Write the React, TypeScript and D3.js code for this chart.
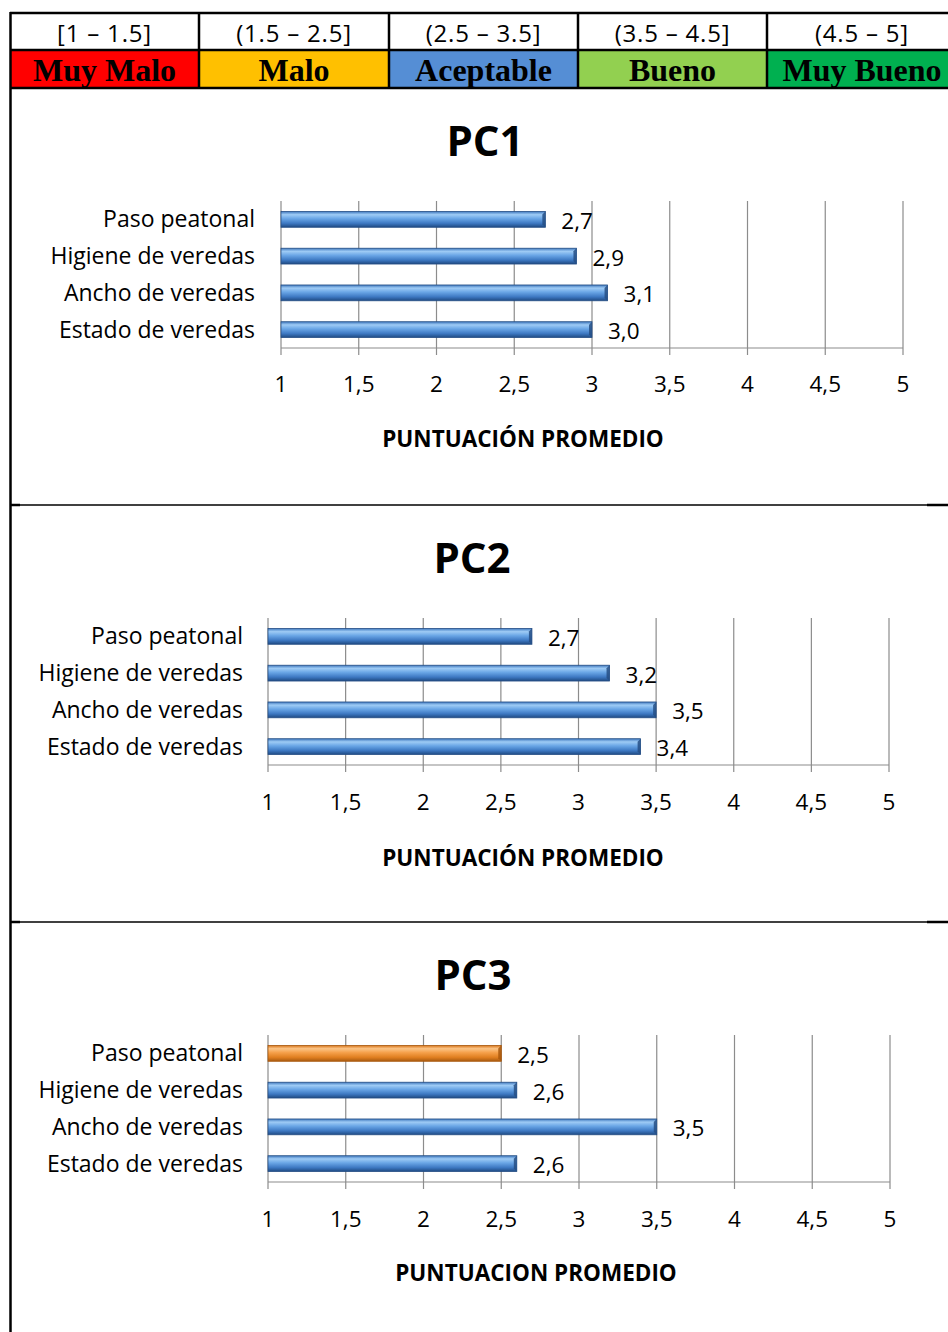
import React from "react";
import * as d3 from "d3";

const categories = ["Paso peatonal", "Higiene de veredas", "Ancho de veredas", "Estado de veredas"];
const pc1Values = [2.7, 2.9, 3.1, 3.0];
const pc2Values = [2.7, 3.2, 3.5, 3.4];
const pc3Values = [2.5, 2.6, 3.5, 2.6];
const pc3Highlight = [true, false, false, false];
const chartTitles = ["PC1", "PC2", "PC3"];
const axisTitles = ["PUNTUACIÓN PROMEDIO", "PUNTUACIÓN PROMEDIO", "PUNTUACION PROMEDIO"];
const xTicks = [1, 1.5, 2, 2.5, 3, 3.5, 4, 4.5, 5];
const scaleRanges = ["[1 – 1.5]", "(1.5 – 2.5]", "(2.5 – 3.5]", "(3.5 – 4.5]", "(4.5 – 5]"];
const scaleLabels = ["Muy Malo", "Malo", "Aceptable", "Bueno", "Muy Bueno"];
const scaleColors = ["#ff0000", "#ffc000", "#558ed5", "#92d050", "#00b050"];

const W = 948;
const H = 1332;

const layouts = [
  { x0: 281, x1: 903, top: 201, base: 348, labelRight: 255, tickY: 383, titleX: 485, titleY: 139, atX: 523, atY: 438 },
  { x0: 268, x1: 889, top: 618, base: 765, labelRight: 243, tickY: 801, titleX: 472, titleY: 556, atX: 523, atY: 857 },
  { x0: 268, x1: 890, top: 1035, base: 1182, labelRight: 243, tickY: 1218, titleX: 473, titleY: 973, atX: 536, atY: 1272 },
];

const fmt = (v: number) => String(v).replace(".", ",");
const fmt1 = (v: number) => v.toFixed(1).replace(".", ",");
const FONT = "'Open Sans', Lato, sans-serif";

function Chart({ idx, values, highlight }: { idx: number; values: number[]; highlight?: boolean[] }) {
  const L = layouts[idx];
  const x = d3.scaleLinear().domain([1, 5]).range([L.x0, L.x1]);
  const y = d3.scaleBand<string>().domain(categories).range([L.top, L.base]).paddingInner(0.57).paddingOuter(0.285);
  const bh = y.bandwidth();
  return (
    <g>
      <text x={L.titleX} y={L.titleY} textAnchor="middle" dominantBaseline="central" fontFamily={FONT} fontWeight="bold" fontSize={42}>
        {chartTitles[idx]}
      </text>
      {xTicks.map((t) => (
        <line key={"g" + t} x1={x(t)} x2={x(t)} y1={L.top} y2={L.base + 7} stroke="#8c8c8c" strokeWidth={1.2} />
      ))}
      <line x1={x(1)} x2={x(5)} y1={L.base} y2={L.base} stroke="#8c8c8c" strokeWidth={1.2} />
      {xTicks.map((t) => (
        <text key={"t" + t} x={x(t)} y={L.tickY} textAnchor="middle" dominantBaseline="central" fontFamily={FONT} fontSize={22.5}>
          {fmt(t)}
        </text>
      ))}
      {categories.map((c, i) => {
        const yy = y(c)!;
        const xe = x(values[i]);
        const orange = highlight ? highlight[i] : false;
        const grad = orange ? "url(#gOrange)" : "url(#gBlue)";
        const dark = orange ? "#a8570c" : "#264f85";
        const bev = 3;
        return (
          <g key={c}>
            <text x={L.labelRight} y={yy + bh / 2 - 1} textAnchor="end" dominantBaseline="central" fontFamily={FONT} fontSize={23}>
              {c}
            </text>
            <rect x={x(1)} y={yy} width={xe - x(1)} height={bh} fill={grad} />
            <polygon points={`${xe - bev},${yy + bev} ${xe},${yy} ${xe},${yy + bh} ${xe - bev},${yy + bh - bev}`} fill={dark} opacity={0.85} />
            <rect x={x(1)} y={yy} width={xe - x(1)} height={bh} fill="none" stroke={dark} strokeWidth={0.8} />
            <text x={xe + 16} y={yy + bh / 2 + 1} dominantBaseline="central" fontFamily={FONT} fontSize={22.5}>
              {fmt1(values[i])}
            </text>
          </g>
        );
      })}
      <text x={L.atX} y={L.atY} textAnchor="middle" dominantBaseline="central" fontFamily={FONT} fontWeight="bold" fontSize={22.5}>
        {axisTitles[idx]}
      </text>
    </g>
  );
}

export default function App() {
  const colX = [10, 199, 389, 578, 767, 957];
  return (
    <svg width={W} height={H} style={{ position: "absolute", left: 0, top: 0, display: "block" }}>
      <defs>
        <linearGradient id="gBlue" x1="0" y1="0" x2="0" y2="1">
          <stop offset="0" stopColor="#3f78be" />
          <stop offset="0.2" stopColor="#9ecbf5" />
          <stop offset="0.45" stopColor="#6aa6e6" />
          <stop offset="0.75" stopColor="#3d78c2" />
          <stop offset="1" stopColor="#1f4a82" />
        </linearGradient>
        <linearGradient id="gOrange" x1="0" y1="0" x2="0" y2="1">
          <stop offset="0" stopColor="#d9771e" />
          <stop offset="0.2" stopColor="#fbc486" />
          <stop offset="0.45" stopColor="#f5a04a" />
          <stop offset="0.75" stopColor="#e07f20" />
          <stop offset="1" stopColor="#a85a10" />
        </linearGradient>
      </defs>
      <rect x={0} y={0} width={W} height={H} fill="#ffffff" />
      {scaleLabels.map((lab, i) => (
        <g key={lab}>
          <rect x={colX[i]} y={50} width={colX[i + 1] - colX[i]} height={38} fill={scaleColors[i]} />
          <text x={(colX[i] + colX[i + 1]) / 2} y={32} textAnchor="middle" dominantBaseline="central" fontFamily={FONT} fontSize={24} letterSpacing={0.8}>
            {scaleRanges[i]}
          </text>
          <text x={(colX[i] + colX[i + 1]) / 2} y={70} textAnchor="middle" dominantBaseline="central" fontFamily="'Liberation Serif', 'Times New Roman', serif" fontWeight="bold" fontSize={32}>
            {lab}
          </text>
        </g>
      ))}
      <line x1={10} x2={W} y1={13} y2={13} stroke="#000" strokeWidth={2.5} />
      <line x1={10} x2={W} y1={50} y2={50} stroke="#000" strokeWidth={2.5} />
      <line x1={10} x2={W} y1={88} y2={88} stroke="#000" strokeWidth={2.5} />
      {colX.slice(1, 5).map((cx) => (
        <line key={cx} x1={cx} x2={cx} y1={13} y2={88} stroke="#000" strokeWidth={2.5} />
      ))}
      <line x1={10.5} x2={10.5} y1={12} y2={H} stroke="#000" strokeWidth={2.5} />
      {[505, 922].map((sy) => (
        <g key={sy}>
          <line x1={10} x2={W} y1={sy} y2={sy} stroke="#000" strokeWidth={1.3} />
          <line x1={10} x2={20} y1={sy} y2={sy} stroke="#000" strokeWidth={2.5} />
          <line x1={927} x2={W} y1={sy} y2={sy} stroke="#000" strokeWidth={2.5} />
        </g>
      ))}
      <Chart idx={0} values={pc1Values} />
      <Chart idx={1} values={pc2Values} />
      <Chart idx={2} values={pc3Values} highlight={pc3Highlight} />
    </svg>
  );
}
